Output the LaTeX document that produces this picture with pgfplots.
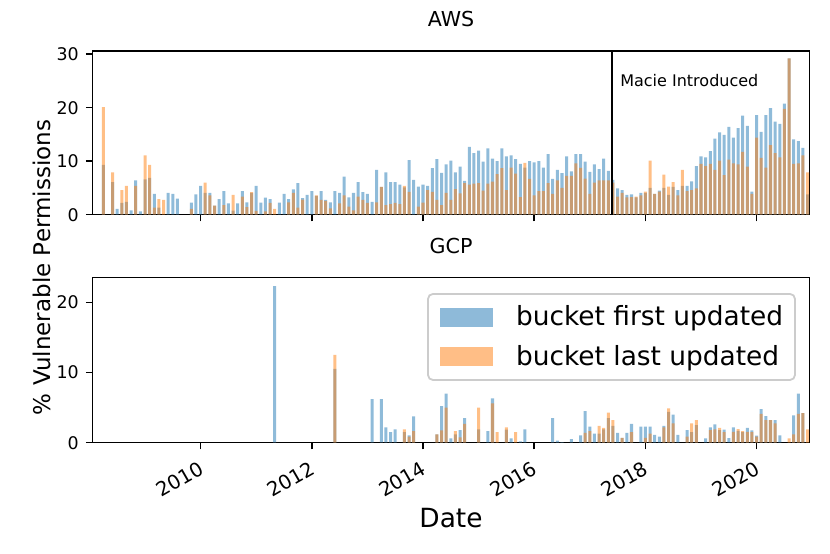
\documentclass[border=0pt]{standalone}
\usepackage{pgfplots}
\pgfplotsset{compat=1.18}
\usepackage{pgfplotstable}
\usepackage{fontspec}
\setmainfont{DejaVu Sans}
\definecolor{tabblue}{RGB}{31,119,180}
\definecolor{taborange}{RGB}{255,127,14}

% i = bar index (0 = April 2008, monthly), b = bucket first updated, o = bucket last updated
\pgfplotstableread{
i b o
0 9.3 20.1
2 6.1 7.9
3 1.1 0
4 2.2 4.6
5 2.4 5.4
6 0.8 0
7 6.4 5.4
8 0.6 0
9 6.6 11.1
10 6.9 9.3
11 3.9 1.3
12 1.3 2.9
13 0 2.75
14 4.1 0
15 3.9 0
16 3.0 0
19 2.25 1.1
20 3.8 0
21 5.4 0
22 4.1 6.0
23 4.1 3.6
24 1.7 1.7
25 2.9 0
26 4.4 1.8
27 2.1 0
28 0.75 3.7
29 2.1 0
30 4.4 3.4
31 2.3 1.4
32 4.1 4.2
33 5.4 0.7
34 2.25 0
35 3.2 0.6
36 2.9 2.2
37 0 1.1
38 2.25 0
39 3.9 0
40 2.9 2.3
41 4.75 4.1
42 5.9 1.3
43 3.1 2.8
44 3.7 0
45 4.4 0
46 3.5 3.6
47 4.4 2.75
48 2.75 2.6
49 2.3 1.2
50 4.4 0
51 4.1 2.1
52 7.1 3.6
53 3.25 1.5
54 4.1 0.8
55 6.1 3.4
56 4.2 2.75
57 3.9 2.2
58 2.4 0
59 8.4 2.3
60 5.2 5.2
61 7.9 1.8
62 6.1 2.0
63 6.1 2.2
64 5.6 2.0
65 5.1 5.4
66 10.2 4.25
67 6.5 0
68 5.25 1.5
69 5.6 2.25
70 5.4 4.6
71 8.7 4.25
72 10.4 2.75
73 7.8 1.8
74 9.4 4.1
75 10.1 2.75
76 7.9 4.8
77 9.0 4.0
78 6.3 5.9
79 12.7 5.6
80 11.5 5.8
81 12.0 5.9
82 9.9 4.5
83 12.4 5.8
84 10.5 6.2
85 10.0 7.6
86 12.4 8.7
87 10.9 4.6
88 11.1 8.8
89 10.4 7.7
90 9.5 3.3
91 8.8 9.7
92 10.0 6.7
93 9.8 3.6
94 10.0 4.4
95 8.8 4.4
96 11.3 5.9
97 6.7 3.9
98 8.4 6.4
99 7.75 5.0
100 10.9 7.25
101 8.1 7.25
102 11.3 9.6
103 11.3 8.75
104 9.9 6.75
105 8.0 3.9
106 9.4 6.0
107 8.5 6.4
108 10.5 6.4
109 8.2 6.4
110 6.5 6.0
111 4.9 3.4
112 4.6 4.1
113 3.7 3.25
114 3.8 3.3
115 3.25 3.4
116 4.1 3.6
117 4.1 4.3
118 5.0 10.1
119 3.9 3.9
120 4.5 4.3
121 5.0 7.5
122 3.7 5.25
123 5.2 6.1
124 4.6 3.6
125 5.4 8.4
126 5.4 4.4
127 6.25 4.6
128 9.1 4.9
129 10.9 9.5
130 10.7 9.1
131 11.9 9.5
132 14.2 8.4
133 15.4 10.1
134 14.9 7.4
135 16.4 10.3
136 14.4 9.6
137 16.2 9.4
138 18.5 11.75
139 16.6 9.0
140 4.3 3.9
141 18.6 14.4
142 15.5 10.6
143 18.6 8.8
144 19.9 13.0
145 17.4 11.5
146 17.0 10.7
147 20.75 19.8
148 29.2 29.2
149 14.1 9.5
150 13.75 9.6
151 12.5 11.1
152 3.8 7.9
}\awsdata

\pgfplotstableread{
i b o
37 22.3 0
50 10.5 12.5
58 6.2 0
60 6.2 0
61 2.2 0
62 1.5 0
63 1.9 0
65 1.5 1.9
66 1.05 0.85
67 3.75 1.65
72 1.2 1.2
73 5.2 1.75
74 7.0 5.0
75 0.6 0
76 1.2 1.65
77 1.8 0.75
78 3.5 2.7
81 1.9 5.0
83 1.65 0
84 6.3 5.6
85 0 1.5
87 1.85 2.2
88 0.6 0
89 0 1.5
90 0.2 0
91 1.9 0
97 3.5 0
98 0.3 0
99 0.1 0
101 0.5 0
103 1.05 0
104 4.5 1.4
105 2.3 1.65
106 1.3 0
107 1.3 2.4
108 1.9 2.1
109 3.5 4.3
110 2.4 3.2
111 1.4 0
112 0.7 0.7
113 1.4 0
114 2.7 1.5
116 2.3 0
117 2.3 0.7
118 2.3 1.3
119 1.1 0
120 0.85 0
121 2.4 2.2
122 4.4 4.9
123 4.0 2.75
124 1.1 0
126 1.8 0.85
127 1.5 2.75
128 2.5 3.2
130 0.6 0
131 2.2 1.8
132 2.6 1.9
133 1.8 2.1
134 1.85 1.5
135 0.65 0
136 2.2 1.55
137 1.7 1.95
138 1.5 1.65
139 2.1 1.55
140 1.75 1.5
141 1.0 0.85
142 4.8 4.1
143 3.8 3.2
144 3.2 3.2
145 3.2 2.75
146 1.05 0
148 0 0.6
149 3.9 1.2
150 7.0 4.1
151 4.2 4.2
152 0 1.9
}\gcpdata

\pgfplotsset{
  mybase/.style={
    scale only axis,
    width=358.4pt,
    anchor=south west,
    xmin=-2.29, xmax=152.42,
    ymin=0,
    enlargelimits=false,
    ybar, bar width=0.65, bar shift=0pt,
    axis line style={line width=0.77pt, black},
    tick style={line width=0.77pt, black},
    tick align=outside,
    major tick length=3.35pt,
    tick pos=left,
    xtick={21,45,69,93,117,141},
    /pgf/number format/assume math mode=true,
    tick label style={font=\fontsize{8.7}{10}\selectfont},
    yticklabel style={anchor=east, inner sep=0pt, xshift=-3.4pt},
    title style={at={(0.5,1)}, anchor=base, yshift=6pt, font=\fontsize{10.3}{12}\selectfont},
    legend image code/.code={\fill[##1, sharp corners] (0pt,-4.75pt) rectangle (26.65pt,4.75pt);},
  },
}

\begin{document}
\begin{tikzpicture}
\path[use as bounding box] (0,0) rectangle (415pt,276.5pt);

\begin{axis}[mybase,
  at={(46.35pt,169.15pt)},
  height=81.85pt,
  ymax=30.6,
  ytick={0,10,20,30},
  xticklabels={},
  title={AWS},
]
\addplot[fill=tabblue, fill opacity=0.5, draw=none] table[x=i,y=b] {\awsdata};
\addplot[fill=taborange, fill opacity=0.5, draw=none] table[x=i,y=o] {\awsdata};
\draw[black, line width=1pt] (axis cs:109.8,0) -- (axis cs:109.8,30.6);
\node[anchor=base west, inner sep=0pt, font=\fontsize{8}{9.6}\selectfont] at (axis cs:111.5,23.9) {Macie Introduced};
\end{axis}

\begin{axis}[mybase,
  at={(46.35pt,55.15pt)},
  height=82.7pt,
  ymax=23.56,
  ytick={0,10,20},
  xticklabels={2010,2012,2014,2016,2018,2020},
  xticklabel style={rotate=30, anchor=north east, inner sep=0pt, yshift=-3.8pt, xshift=-3.8pt, font=\fontsize{9.8}{11}\selectfont},
  title={GCP},
  legend style={
    at={(rel axis cs:0.981,0.905)}, anchor=north east,
    draw=black!20, line width=0.9pt, rounded corners=2.5pt, fill=white,
    font=\fontsize{13.2}{15.8}\selectfont,
    inner xsep=5.9pt, inner ysep=3.9pt,
    nodes={inner sep=0pt, text height=11.9pt, text depth=3.6pt},
    row sep=4.25pt, column sep=11.5pt,
    cells={anchor=west},
  },
]
\addplot[fill=tabblue, fill opacity=0.5, draw=none] table[x=i,y=b] {\gcpdata};
\addlegendentry{bucket first updated}
\addplot[fill=taborange, fill opacity=0.5, draw=none] table[x=i,y=o] {\gcpdata};
\addlegendentry{bucket last updated}
\end{axis}

\node[rotate=90, anchor=base, inner sep=0pt, font=\fontsize{11.5}{13.8}\selectfont] at (25pt,142.75pt) {\% Vulnerable Permissions};
\node[anchor=base, inner sep=0pt, font=\fontsize{13.2}{15.8}\selectfont] at (225.5pt,13pt) {Date};
\end{tikzpicture}
\end{document}
